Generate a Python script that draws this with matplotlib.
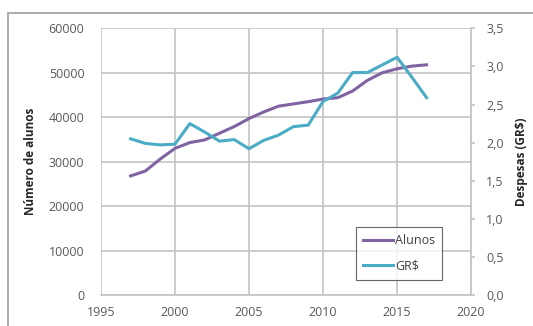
import matplotlib
matplotlib.use('Agg')
import matplotlib.pyplot as plt
from matplotlib.ticker import FuncFormatter
from matplotlib.patches import Rectangle

plt.rcParams['font.family'] = ['Open Sans', 'DejaVu Sans']
plt.rcParams['font.size'] = 9

# data
years = list(range(1997, 2018))
alunos = [26800, 27900, 30600, 33000, 34300, 34900, 36400, 37900, 39700, 41200,
          42500, 43000, 43500, 44100, 44400, 45900, 48300, 50000, 50900, 51500, 51800]
despesas = [2.05, 1.99, 1.97, 1.98, 2.25, 2.14, 2.02, 2.04, 1.92, 2.03,
            2.10, 2.21, 2.23, 2.54, 2.65, 2.92, 2.92, 3.02, 3.12, 2.86, 2.59]

purple = '#8064A2'
cyan = '#4BACC6'
grid_c = '#c4c4c4'
text_c = '#595959'

fig = plt.figure(figsize=(5.33, 3.26), dpi=100)
ax = fig.add_axes([0.1895, 0.095, 0.6942, 0.818])
ax2 = ax.twinx()

l1, = ax.plot(years, alunos, color=purple, lw=2.2, label='Alunos')
l2, = ax2.plot(years, despesas, color=cyan, lw=2.2, label='GR$')

ax.set_xlim(1995, 2020)
ax.set_ylim(0, 60000)
ax2.set_ylim(0, 3.5)
ax.set_xticks(range(1995, 2021, 5))
ax.set_yticks(range(0, 60001, 10000))
ax2.set_yticks([i * 0.5 for i in range(8)])
ax2.yaxis.set_major_formatter(FuncFormatter(lambda v, p: f'{v:.1f}'.replace('.', ',')))

ax.grid(True, color=grid_c, lw=1.2)
ax.set_axisbelow(True)
for a in (ax, ax2):
    for s in a.spines.values():
        s.set_visible(False)
ax2.spines['right'].set_visible(True)
ax2.spines['right'].set_color(grid_c)
ax2.spines['right'].set_linewidth(1.2)
ax.spines['bottom'].set_visible(True)
ax.spines['bottom'].set_color(grid_c)
ax.spines['bottom'].set_linewidth(1.2)

ax.tick_params(axis='x', length=0, colors=text_c, pad=8)
ax.tick_params(axis='y', length=0, colors=text_c, pad=12)
ax2.tick_params(axis='y', length=3, width=1.2, color=grid_c, labelcolor=text_c, pad=8)

ax.set_ylabel('Número de alunos', fontweight='bold', fontsize=8.5, color='#262626', labelpad=8)
ax2.set_ylabel('Despesas (GR$)', fontweight='bold', fontsize=8.5, color='#262626', labelpad=8)

leg = ax.legend(handles=[l1, l2], loc='lower left', bbox_to_anchor=(0.688, 0.056, 0.233, 0.204),
                mode='expand', frameon=True, fancybox=False, handlelength=2.4,
                labelspacing=1.0, borderaxespad=0, handletextpad=0.15, borderpad=0.6,
                fontsize=9)
leg.get_frame().set_edgecolor('#404040')
leg.get_frame().set_linewidth(0.8)
for t in leg.get_texts():
    t.set_color('#404040')

fig.patches.append(Rectangle((8 / 533, -0.1), 1.2, 1 - 13 / 326 + 0.1, transform=fig.transFigure,
                             fill=False, edgecolor='#a0a0a0', lw=1.2))

fig.savefig('out.png', dpi=100)
